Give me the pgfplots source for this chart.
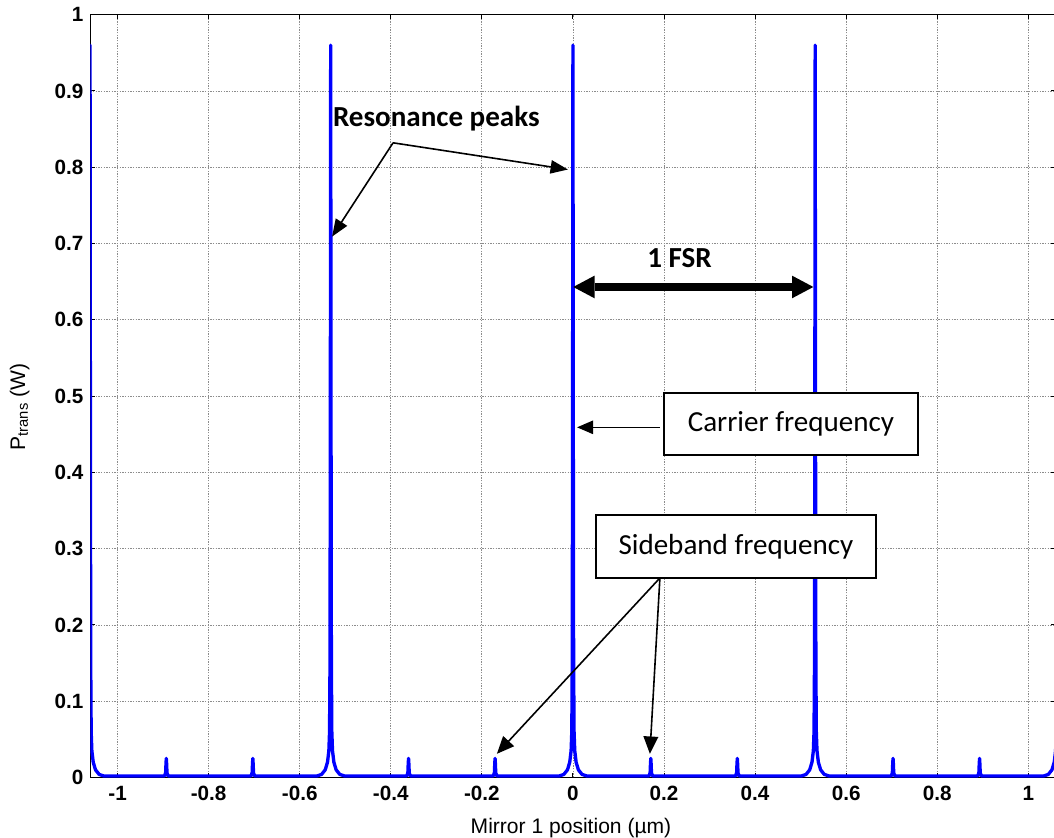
\documentclass[border=0pt]{standalone}
\usepackage{fontspec}
\setmainfont{Liberation Sans}
\newfontfamily\calibri{Carlito}
\usepackage{pgfplots}
\pgfplotsset{compat=1.18}
\usetikzlibrary{arrows.meta}

\begin{document}
\begin{tikzpicture}
\begin{axis}[
  scale only axis, width=724pt, height=572.1pt,
  xmin=-1.06, xmax=1.06, ymin=0, ymax=1,
  xtick={-1,-0.8,-0.6,-0.4,-0.2,0,0.2,0.4,0.6,0.8,1},
  ytick={0,0.1,0.2,0.3,0.4,0.5,0.6,0.7,0.8,0.9,1},
  grid=major,
  grid style={black!45, line width=0.6pt, dash pattern=on 1pt off 1pt},
  axis line style={black, line width=0.8pt},
  tick align=inside, major tick length=3.5pt,
  tick style={black, line width=0.7pt},
  /pgf/number format/assume math mode=true,
  ticklabel style={font=\fontsize{15.5}{18}\selectfont\bfseries},
  xticklabel style={yshift=-3pt},
  yticklabel style={xshift=-1.7pt},
  xlabel={Mirror 1 position (µm)},
  xlabel style={font=\fontsize{15.8}{18}\selectfont, at={(axis description cs:0.498,-0.074)}, anchor=base},
  ylabel={P\textsubscript{trans} (W)},
  ylabel style={font=\fontsize{15.8}{18}\selectfont, at={(axis description cs:-0.0676,0.486)}, anchor=base, rotate=0},
]
\addplot[color={rgb,1:red,0;green,0;blue,1}, line width=2.5pt, line join=round, no marks] coordinates {
(-1.0613,0.45) (-1.0605,0.96) (-1.0597,0.45) (-1.059,0.15) (-1.058,0.06) (-1.0565,0.035) (-1.0535,0.02) (-1.0485,0.01) (-1.0405,0.004) (-1.0305,0.002)
(-0.897,0.002) (-0.8945,0.006) (-0.8937,0.018) (-0.893,0.025) (-0.8923,0.018) (-0.8915,0.006) (-0.889,0.002)
(-0.707,0.002) (-0.7045,0.006) (-0.7037,0.018) (-0.703,0.025) (-0.7023,0.018) (-0.7015,0.006) (-0.699,0.002)
(-0.562,0.002) (-0.552,0.004) (-0.544,0.01) (-0.539,0.02) (-0.536,0.035) (-0.5345,0.06) (-0.5335,0.15) (-0.5328,0.45) (-0.532,0.96) (-0.5312,0.45) (-0.5305,0.15) (-0.5295,0.06) (-0.528,0.035) (-0.525,0.02) (-0.52,0.01) (-0.512,0.004) (-0.502,0.002)
(-0.365,0.002) (-0.3625,0.006) (-0.3617,0.018) (-0.361,0.025) (-0.3603,0.018) (-0.3595,0.006) (-0.357,0.002)
(-0.175,0.002) (-0.1725,0.006) (-0.1717,0.018) (-0.171,0.025) (-0.1703,0.018) (-0.1695,0.006) (-0.167,0.002)
(-0.03,0.002) (-0.02,0.004) (-0.012,0.01) (-0.007,0.02) (-0.004,0.035) (-0.0025,0.06) (-0.0015,0.15) (-0.0008,0.45) (0,0.96) (0.0008,0.45) (0.0015,0.15) (0.0025,0.06) (0.004,0.035) (0.007,0.02) (0.012,0.01) (0.02,0.004) (0.03,0.002)
(0.167,0.002) (0.1695,0.006) (0.1703,0.018) (0.171,0.025) (0.1717,0.018) (0.1725,0.006) (0.175,0.002)
(0.357,0.002) (0.3595,0.006) (0.3603,0.018) (0.361,0.025) (0.3617,0.018) (0.3625,0.006) (0.365,0.002)
(0.502,0.002) (0.512,0.004) (0.52,0.01) (0.525,0.02) (0.528,0.035) (0.5295,0.06) (0.5305,0.15) (0.5312,0.45) (0.532,0.96) (0.5328,0.45) (0.5335,0.15) (0.5345,0.06) (0.536,0.035) (0.539,0.02) (0.544,0.01) (0.552,0.004) (0.562,0.002)
(0.699,0.002) (0.7015,0.006) (0.7023,0.018) (0.703,0.025) (0.7037,0.018) (0.7045,0.006) (0.707,0.002)
(0.889,0.002) (0.8915,0.006) (0.8923,0.018) (0.893,0.025) (0.8937,0.018) (0.8945,0.006) (0.897,0.002)
(1.034,0.002) (1.044,0.004) (1.052,0.01) (1.057,0.02) (1.06,0.035) (1.0615,0.06) (1.0625,0.15) (1.0632,0.45) (1.064,0.96)
};
% Resonance peaks annotation
\draw[line width=1.2pt, -{Triangle[length=13pt,width=10pt]}] (axis cs:-0.395,0.832) -- (axis cs:-0.529,0.709);
\draw[line width=1.2pt, -{Triangle[length=13pt,width=10pt]}] (axis cs:-0.395,0.832) -- (axis cs:-0.011,0.797);
\node[font=\calibri\bfseries\fontsize{21.8}{26}\selectfont, anchor=base] at (axis cs:-0.300,0.853) {Resonance peaks};
% 1 FSR
\draw[line width=6pt, {Triangle[length=16pt,width=17pt,line width=0pt]}-{Triangle[length=16pt,width=17pt,line width=0pt]}] (axis cs:0.0007,0.643) -- (axis cs:0.528,0.643);
\node[font=\calibri\bfseries\fontsize{21.8}{26}\selectfont, anchor=base] at (axis cs:0.234,0.669) {1 FSR};
% Carrier
\draw[line width=1.1pt, -{Triangle[length=12pt,width=10pt]}] (axis cs:0.191,0.459) -- (axis cs:0.009,0.459);
\node[draw, line width=1.1pt, fill=white, minimum width=190.5pt, minimum height=46.5pt, inner sep=0pt, font=\calibri\fontsize{21.8}{26}\selectfont] at (axis cs:0.4788,0.4634) {Carrier frequency};
% Sideband
\draw[line width=1.2pt, -{Triangle[length=13pt,width=11pt]}] (axis cs:0.191,0.2615) -- (axis cs:-0.167,0.031);
\draw[line width=1.2pt, -{Triangle[length=13pt,width=11pt]}] (axis cs:0.191,0.2615) -- (axis cs:0.169,0.031);
\node[draw, line width=1.1pt, fill=white, minimum width=210pt, minimum height=47pt, inner sep=0pt, font=\calibri\fontsize{21.8}{26}\selectfont] at (axis cs:0.358,0.3028) {Sideband frequency};
\end{axis}
\pgfresetboundingbox
\path (-67.7pt,-45.4pt) rectangle (722.8pt,583.1pt);
\end{tikzpicture}
\end{document}
